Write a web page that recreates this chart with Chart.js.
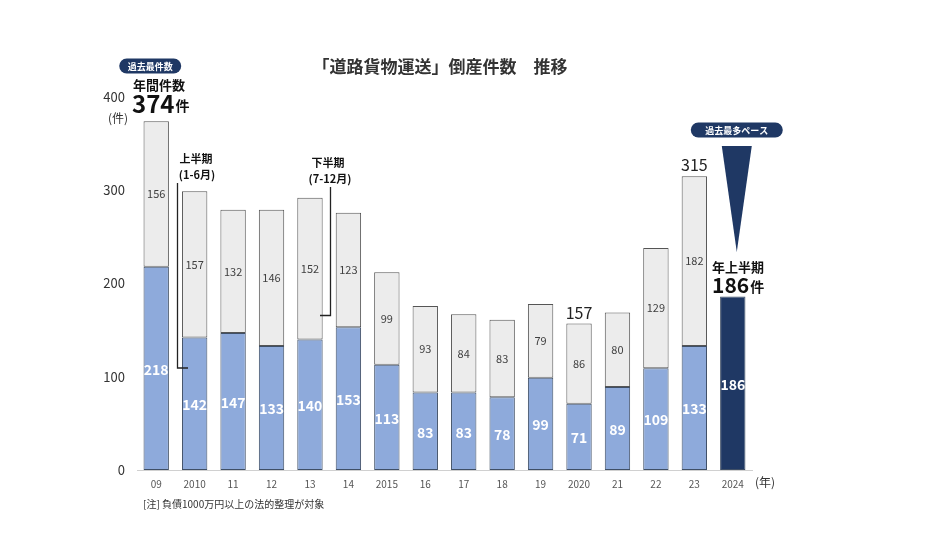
<!DOCTYPE html>
<html><head><meta charset="utf-8">
<script src="https://cdn.jsdelivr.net/npm/chart.js@4.4.1/dist/chart.umd.min.js"></script>
<style>html,body{margin:0;padding:0;background:#fff;}#wrap{width:934px;height:540px;position:relative;}</style>
</head><body><div id="wrap"><canvas id="c" width="934" height="540"></canvas></div>
<script>
const categories = ['09','2010','11','12','13','14','2015','16','17','18','19','2020','21','22','23','2024'];
const firstHalf  = [218,142,147,133,140,153,113,83,83,78,99,71,89,109,133,186];
const secondHalf = [156,157,132,146,152,123,99,93,84,83,79,86,80,129,182,null];
const totalLabels = {11:157, 14:315};
const yTicks = [0,100,200,300,400];

const FONT = '"Noto Sans CJK JP","Noto Sans",sans-serif';
const blue = '#8eaadb', navy = '#1f3864', light = '#ececec';
const bgFirst = categories.map((c,i)=> i===categories.length-1 ? navy : blue);

const labelPlugin = {
  id:'labels',
  afterDatasetsDraw(chart){
    const ctx = chart.ctx;
    const m0 = chart.getDatasetMeta(0).data, m1 = chart.getDatasetMeta(1).data;
    ctx.save();
    ctx.textAlign='center'; ctx.textBaseline='middle';
    m0.forEach((b,i)=>{
      ctx.fillStyle='#fff'; ctx.font='bold 14px '+FONT;
      ctx.fillText(String(firstHalf[i]), b.x, (b.y+b.base)/2+1);
    });
    m1.forEach((b,i)=>{
      if(secondHalf[i]==null) return;
      ctx.fillStyle='#404040'; ctx.font='11px '+FONT;
      ctx.fillText(String(secondHalf[i]), b.x, (b.y+b.base)/2);
      if(totalLabels[i]){
        ctx.fillStyle='#222'; ctx.font='16px '+FONT;
        ctx.fillText(String(totalLabels[i]), b.x, b.y-11);
      }
    });
    const xs = chart.scales.x;
    function pill(cx, cy, w, h, text, fs){
      ctx.fillStyle=navy;
      ctx.beginPath(); ctx.roundRect(cx-w/2, cy-h/2, w, h, h/2); ctx.fill();
      ctx.fillStyle='#fff'; ctx.font='bold '+fs+'px '+FONT;
      ctx.fillText(text, cx, cy+0.5);
    }
    const x0 = xs.getPixelForValue(0);
    pill(x0-6, 66, 62, 15, '過去最件数', 9);
    ctx.fillStyle='#111'; ctx.font='bold 13px '+FONT; ctx.textAlign='left';
    ctx.fillText('年間件数', 133, 85);
    ctx.font='bold 24px '+FONT; ctx.fillText('374', 132, 104);
    const w374 = ctx.measureText('374').width;
    ctx.font='bold 14px '+FONT; ctx.fillText('件', 132+w374+1, 106);
    ctx.textAlign='right'; ctx.fillStyle='#333'; ctx.font='12px '+FONT;
    ctx.fillText('(件)', 128, 118);
    ctx.textAlign='center'; ctx.fillStyle='#111'; ctx.font='bold 11px '+FONT;
    ctx.fillText('上半期', 196, 159);
    ctx.fillText('(1-6月)', 197, 175);
    ctx.fillText('下半期', 328, 163);
    ctx.fillText('(7-12月)', 330, 179);
    ctx.strokeStyle='#222'; ctx.lineWidth=1.3;
    ctx.beginPath(); ctx.moveTo(177.5,183); ctx.lineTo(177.5,368); ctx.lineTo(188,368); ctx.stroke();
    ctx.beginPath(); ctx.moveTo(330.5,187); ctx.lineTo(330.5,315.5); ctx.lineTo(320,315.5); ctx.stroke();
    const xl = xs.getPixelForValue(15);
    pill(xl+4, 130, 92, 15, '過去最多ペース', 9);
    ctx.fillStyle=navy;
    ctx.beginPath(); ctx.moveTo(xl-11,146); ctx.lineTo(xl+19,146); ctx.lineTo(xl+4,252); ctx.closePath(); ctx.fill();
    ctx.fillStyle='#111'; ctx.textAlign='left'; ctx.font='bold 13px '+FONT;
    ctx.fillText('年上半期', 712, 267);
    ctx.font='bold 21px '+FONT; ctx.fillText('186', 712, 285);
    const w186 = ctx.measureText('186').width;
    ctx.font='bold 14px '+FONT; ctx.fillText('件', 712+w186+1, 287);
    ctx.fillStyle='#333'; ctx.font='12px '+FONT; ctx.textAlign='left';
    ctx.fillText('(年)', 755, 482);
    ctx.textAlign='center'; ctx.fillStyle='#333'; ctx.font='bold 17px '+FONT;
    ctx.fillText('「道路貨物運送」倒産件数　推移', 440, 67);
    ctx.textAlign='left'; ctx.fillStyle='#333'; ctx.font='10px '+FONT;
    ctx.fillText('[注] 負債1000万円以上の法的整理が対象', 143, 504);
    ctx.restore();
  }
};

new Chart(document.getElementById('c'), {
  type:'bar',
  data:{
    labels: categories,
    datasets:[
      {label:'上半期', data:firstHalf, backgroundColor:bgFirst, borderColor:'#3f4f66', borderWidth:1, borderSkipped:false, barPercentage:0.66, categoryPercentage:1},
      {label:'下半期', data:secondHalf, backgroundColor:light, borderColor:'#555', borderWidth:1, borderSkipped:false, barPercentage:0.66, categoryPercentage:1}
    ]
  },
  options:{
    responsive:false, animation:false,
    layout:{padding:{left:60, right:182, top:97, bottom:0}},
    plugins:{legend:{display:false}, tooltip:{enabled:false}},
    scales:{
      x:{stacked:true, grid:{display:false}, border:{display:true, color:'#d0d0d0'},
         ticks:{color:'#555', font:{size:10, family:FONT}, padding:0, maxRotation:0, autoSkip:false},
         afterFit(s){ s.height = 70; }},
      y:{stacked:true, min:0, max:400, grid:{display:false}, border:{display:false},
         afterBuildTicks(s){ s.ticks = yTicks.map(v=>({value:v})); },
         ticks:{color:'#333', font:{size:13, family:FONT}, padding:4},
         afterFit(s){ s.width = 77; }}
    }
  },
  plugins:[labelPlugin]
});
</script></body></html>
